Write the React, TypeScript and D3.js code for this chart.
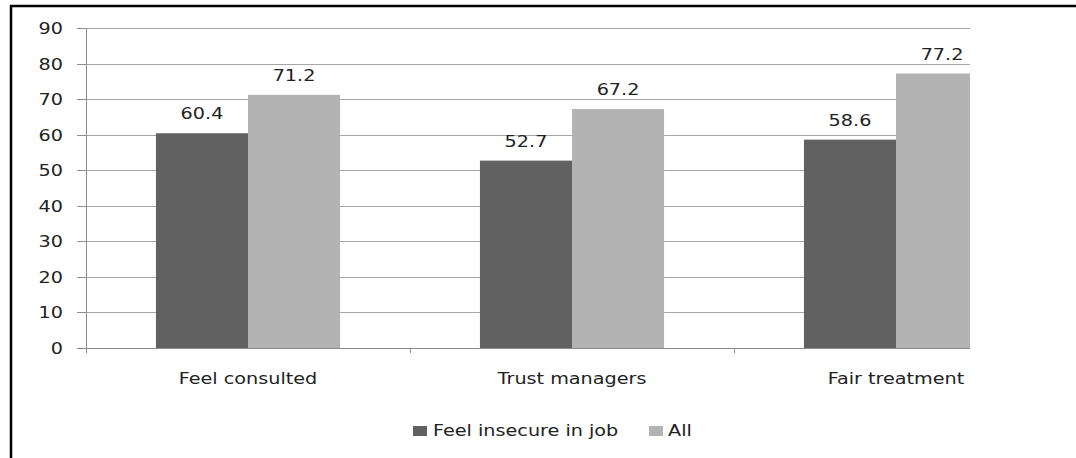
import React, { useEffect, useRef } from 'react';
import * as d3 from 'd3';

// chart data
const categories = ['Feel consulted', 'Trust managers', 'Fair treatment'];
const seriesNames = ['Feel insecure in job', 'All'];
const insecureValues = [60.4, 52.7, 58.6];
const allValues = [71.2, 67.2, 77.2];
const yTicks = [0, 10, 20, 30, 40, 50, 60, 70, 80, 90];
const seriesColors = ['#616161', '#b3b3b3'];

const W = 1076;
const H = 458;
const TEXT_STRETCH = 1.28; // the source text is drawn wide

const App = () => {
    const ref = useRef<SVGSVGElement | null>(null);

    useEffect(() => {
        const svg = d3.select(ref.current);
        svg.selectAll('*').remove();

        const left = 86;
        const top = 28;
        const bottom = 348;
        const clipRight = 970; // the plot area is cut off on the right

        const x = d3.scaleBand<string>()
            .domain(categories)
            .range([left, left + 324 * 3])
            .paddingInner(0)
            .paddingOuter(0);
        const inner = d3.scaleBand<string>()
            .domain(seriesNames)
            .range([0, x.bandwidth()])
            .paddingInner(0)
            .paddingOuter(0.76);
        const y = d3.scaleLinear().domain([0, 90]).range([bottom, top]);

        const txt = (g: any, tx: number, ty: number, s: string, anchor: string) =>
            g.append('text')
                .attr('transform', `translate(${tx},${ty}) scale(${TEXT_STRETCH},1)`)
                .attr('text-anchor', anchor)
                .attr('font-family', 'DejaVu Sans, sans-serif')
                .attr('font-size', 15)
                .attr('fill', '#222')
                .text(s);

        // white background
        svg.append('rect').attr('width', W).attr('height', H).attr('fill', '#fff');

        // frame (top and left border of the figure box)
        svg.append('line').attr('x1', 10).attr('x2', W).attr('y1', 6).attr('y2', 6)
            .attr('stroke', '#000').attr('stroke-width', 2.5);
        svg.append('line').attr('x1', 11).attr('x2', 11).attr('y1', 5).attr('y2', H)
            .attr('stroke', '#000').attr('stroke-width', 2.5);

        svg.append('defs').append('clipPath').attr('id', 'plotClip')
            .append('rect').attr('x', 0).attr('y', 0).attr('width', clipRight).attr('height', H);

        const plot = svg.append('g').attr('clip-path', 'url(#plotClip)');

        // gridlines
        plot.selectAll('line.grid')
            .data(yTicks.filter(t => t > 0))
            .join('line')
            .attr('class', 'grid')
            .attr('x1', left).attr('x2', W)
            .attr('y1', d => Math.round(y(d)) + 0.5).attr('y2', d => Math.round(y(d)) + 0.5)
            .attr('stroke', '#a6a6a6').attr('stroke-width', 1);

        // bars
        const allSeries = [insecureValues, allValues];
        allSeries.forEach((vals, si) => {
            plot.selectAll(`rect.s${si}`)
                .data(vals)
                .join('rect')
                .attr('class', `s${si}`)
                .attr('x', (_, i) => x(categories[i])! + inner(seriesNames[si])!)
                .attr('width', inner.bandwidth())
                .attr('y', d => y(d))
                .attr('height', d => bottom - y(d))
                .attr('fill', seriesColors[si]);
        });

        // x axis line
        plot.append('line').attr('x1', 77).attr('x2', W)
            .attr('y1', bottom + 0.5).attr('y2', bottom + 0.5)
            .attr('stroke', '#8c8c8c');

        // y axis
        svg.append('line').attr('x1', left + 0.5).attr('x2', left + 0.5)
            .attr('y1', top).attr('y2', bottom + 5)
            .attr('stroke', '#8c8c8c');
        yTicks.forEach(t => {
            const ty = Math.round(y(t)) + 0.5;
            svg.append('line').attr('x1', 77).attr('x2', left).attr('y1', ty).attr('y2', ty)
                .attr('stroke', '#8c8c8c');
            txt(svg, 63, ty + 5, String(t), 'end');
        });

        // category separators
        categories.slice(1).forEach(c => {
            const tx = Math.round(x(c)!) + 0.5;
            svg.append('line').attr('x1', tx).attr('x2', tx)
                .attr('y1', bottom).attr('y2', bottom + 5)
                .attr('stroke', '#8c8c8c');
        });

        // category labels
        categories.forEach(c => {
            txt(svg, x(c)! + x.bandwidth() / 2, 384, c, 'middle');
        });

        // value labels
        allSeries.forEach((vals, si) => {
            vals.forEach((v, i) => {
                const cx = x(categories[i])! + inner(seriesNames[si])! + inner.bandwidth() / 2;
                txt(svg, cx, y(v) - 14, v.toFixed(1), 'middle');
            });
        });

        // legend
        const legendItems = [
            { name: seriesNames[0], sx: 413, tx: 433 },
            { name: seriesNames[1], sx: 649, tx: 668 }
        ];
        legendItems.forEach((item, i) => {
            svg.append('rect').attr('x', item.sx).attr('y', 426)
                .attr('width', 14).attr('height', 10)
                .attr('fill', seriesColors[i]);
            txt(svg, item.tx, 436, item.name, 'start');
        });
    }, []);

    return (
        <svg
            ref={ref}
            width={W}
            height={H}
            style={{ position: 'absolute', left: 0, top: 0, display: 'block' }}
        />
    );
};

export default App;
